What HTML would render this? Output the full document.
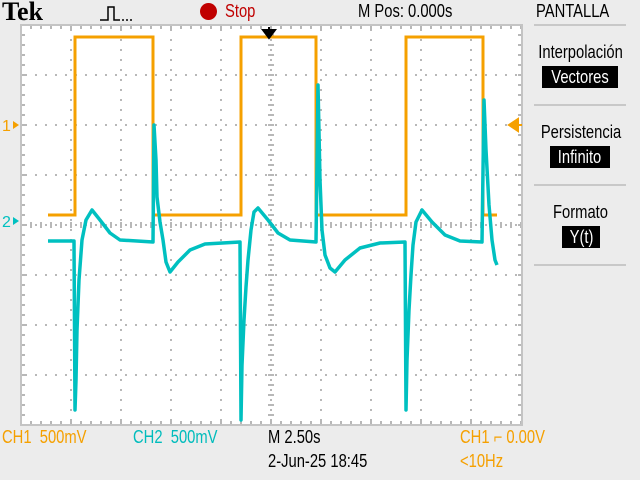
<!DOCTYPE html>
<html><head><meta charset="utf-8"><style>
html,body{margin:0;padding:0;}
body{width:640px;height:480px;background:#ececec;position:relative;overflow:hidden;font-family:"Liberation Sans Narrow","Liberation Sans",sans-serif;}
.t{position:absolute;font-size:18px;line-height:18px;white-space:nowrap;transform:scaleX(0.82);transform-origin:left top;}
.o{color:#f5a000}.c{color:#00bcbc}.k{color:#000}
.box{position:absolute;background:#000;color:#fff;font-size:18px;line-height:22px;text-align:center;overflow:hidden;}
.box span{display:inline-block;transform:scaleX(0.82);}
.lbl{position:absolute;left:522px;width:118px;text-align:center;font-size:18px;color:#000;}
.sep{position:absolute;left:534px;width:92px;height:2px;background:#c8c8c8;}
</style></head><body>
<div class="t k" style="left:2px;top:-1px;font-family:'Liberation Serif',serif;font-weight:bold;font-size:26px;line-height:26px;transform:none;">Tek</div>
<svg style="position:absolute;left:98px;top:4px" width="40" height="18"><path d="M2 16 H10 V3 H16 V16 H22 M24 16h2M28 16h2M32 16h2" stroke="#000" stroke-width="1.5" fill="none"/></svg>
<div style="position:absolute;left:200px;top:3px;width:17px;height:17px;border-radius:50%;background:#c00000"></div>
<div class="t" style="left:225px;top:2px;color:#c00000">Stop</div>
<div class="t k" style="left:358px;top:2px">M Pos: 0.000s</div>
<div class="t k" style="left:536px;top:2px">PANTALLA</div>

<div class="sep" style="top:24px"></div><div class="sep" style="top:104px"></div><div class="sep" style="top:184px"></div><div class="sep" style="top:264px"></div>
<div class="lbl" style="top:42px"><span style="display:inline-block;transform:scaleX(0.82)">Interpolación</span></div>
<div class="box" style="left:542px;top:66px;width:76px;"><span>Vectores</span></div>
<div class="lbl" style="top:122px"><span style="display:inline-block;transform:scaleX(0.82)">Persistencia</span></div>
<div class="box" style="left:550px;top:146px;width:60px;"><span>Infinito</span></div>
<div class="lbl" style="top:202px"><span style="display:inline-block;transform:scaleX(0.82)">Formato</span></div>
<div class="box" style="left:562px;top:226px;width:38px;"><span>Y(t)</span></div>

<svg id="scope" style="position:absolute;left:0;top:0" width="640" height="480"></svg>

<div class="t o" style="left:2px;top:428px">CH1&nbsp; 500mV</div>
<div class="t c" style="left:133px;top:428px">CH2&nbsp; 500mV</div>
<div class="t k" style="left:268px;top:428px">M 2.50s</div>
<div class="t k" style="left:268px;top:452px">2-Jun-25 18:45</div>
<div class="t o" style="left:460px;top:428px">CH1 ⌐ 0.00V</div>
<div class="t o" style="left:460px;top:452px">&lt;10Hz</div>

<script>
const ch1Times = [1.35, 2.70, 2.70, 6.60, 6.60, 11.00, 11.00, 14.75, 14.75, 19.25, 19.25, 23.10, 23.10, 23.80];
const ch1Volts = [-0.88, -0.88, 0.90, 0.90, -0.88, -0.88, 0.90, 0.90, -0.88, -0.88, 0.90, 0.90, -0.88, -0.88];
const ch2Times = [1.35,2.65,2.70,2.75,2.80,2.90,3.05,3.25,3.55,3.95,4.45,4.95,6.60,6.65,6.75,6.80,6.95,7.10,7.25,7.45,7.85,8.45,9.20,10.95,11.00,11.05,11.15,11.25,11.35,11.50,11.65,11.85,12.35,12.85,13.45,14.75,14.85,14.95,15.05,15.20,15.45,15.70,16.20,16.95,17.95,19.20,19.25,19.30,19.40,19.50,19.60,19.75,20.05,20.55,21.20,21.95,23.05,23.15,23.25,23.40,23.55,23.70,23.80];
const ch2Volts = [-0.20,-0.20,-1.89,-1.59,-1.09,-0.59,-0.19,0.01,0.11,0.01,-0.12,-0.19,-0.21,0.96,0.61,0.24,-0.01,-0.19,-0.41,-0.51,-0.41,-0.29,-0.23,-0.21,-1.99,-1.44,-0.99,-0.66,-0.39,-0.09,0.09,0.13,0.01,-0.12,-0.19,-0.21,1.36,0.41,-0.09,-0.34,-0.47,-0.51,-0.39,-0.27,-0.22,-0.21,-1.89,-1.39,-0.89,-0.54,-0.24,-0.01,0.11,-0.01,-0.14,-0.20,-0.21,1.21,0.71,0.16,-0.19,-0.39,-0.44];

const X0=21, Y0=25, DIV=50, SEC_PER_DIV=2.5, V_PER_DIV=0.5;
const CH1_GND=127, CH2_GND=221;
function xScale(t){return X0 + t/SEC_PER_DIV*DIV;}
function y1(v){return CH1_GND - v/V_PER_DIV*DIV;}
function y2(v){return CH2_GND - v/V_PER_DIV*DIV;}

const NS="http://www.w3.org/2000/svg";
const svg=document.getElementById('scope');
function mk(tag,attrs){const e=document.createElementNS(NS,tag);for(const k in attrs)e.setAttribute(k,attrs[k]);svg.appendChild(e);return e;}

const plot=mk('rect',{x:21,y:25,width:501,height:400,fill:'#fff'});


let g='';
for(let i=1;i<10;i++){const x=X0+i*DIV;g+=`M${x} 25V425`;}
const vgrid=mk('path',{d:g,stroke:'#b8b8b8','stroke-width':2,'stroke-dasharray':'2 8','stroke-dashoffset':-4,fill:'none'});


g='';
for(let j=1;j<8;j++){const y=Y0+j*DIV;g+=`M21 ${y}H522`;}
const hgrid=mk('path',{d:g,stroke:'#b8b8b8','stroke-width':2,'stroke-dasharray':'2 8','stroke-dashoffset':-4,fill:'none'});


g='';
for(let x=31;x<522;x+=10){g+=`M${x} 25v4M${x} 425v-4M${x} 222v6`;}
for(let y=35;y<425;y+=10){g+=`M21 ${y}h4M522 ${y}h-4M268 ${y}h6`;}
const ticks=mk('path',{d:g,stroke:'#b8b8b8','stroke-width':2,fill:'none'});


const border=mk('rect',{x:21,y:25,width:501,height:400,fill:'none',stroke:'#c4c4c4','stroke-width':2});



let d='';ch1Times.forEach((t,i)=>{d+=(i?'L':'M')+xScale(t).toFixed(1)+' '+y1(ch1Volts[i]).toFixed(1);});
const c1=mk('path',{d:d,stroke:'#f5a000','stroke-width':3,fill:'none'});


d='';ch2Times.forEach((t,i)=>{d+=(i?'L':'M')+xScale(t).toFixed(1)+' '+y2(ch2Volts[i]).toFixed(1);});
const c2=mk('path',{d:d,stroke:'#00c0c0','stroke-width':3.5,fill:'none','stroke-linejoin':'round'});



const trig=mk('path',{d:'M263 30L275 30L269 38Z M269 27V33',stroke:'#000','stroke-width':2,fill:'#000'});


const tl=mk('path',{d:'M509 125L518 119V131Z M518 125H522',stroke:'#f5a000','stroke-width':2,fill:'#f5a000'});



const m1=mk('text',{x:2,y:131,fill:'#f5a000','font-size':16,'font-family':'Liberation Sans, sans-serif'});m1.textContent='1';


const a1=mk('path',{d:'M13 121L19 125L13 129Z',fill:'#f5a000'});


const m2=mk('text',{x:2,y:227,fill:'#00c0c0','font-size':16,'font-family':'Liberation Sans, sans-serif'});m2.textContent='2';


const a2=mk('path',{d:'M13 217L19 221L13 225Z',fill:'#00c0c0'});


</script>
</body></html>
